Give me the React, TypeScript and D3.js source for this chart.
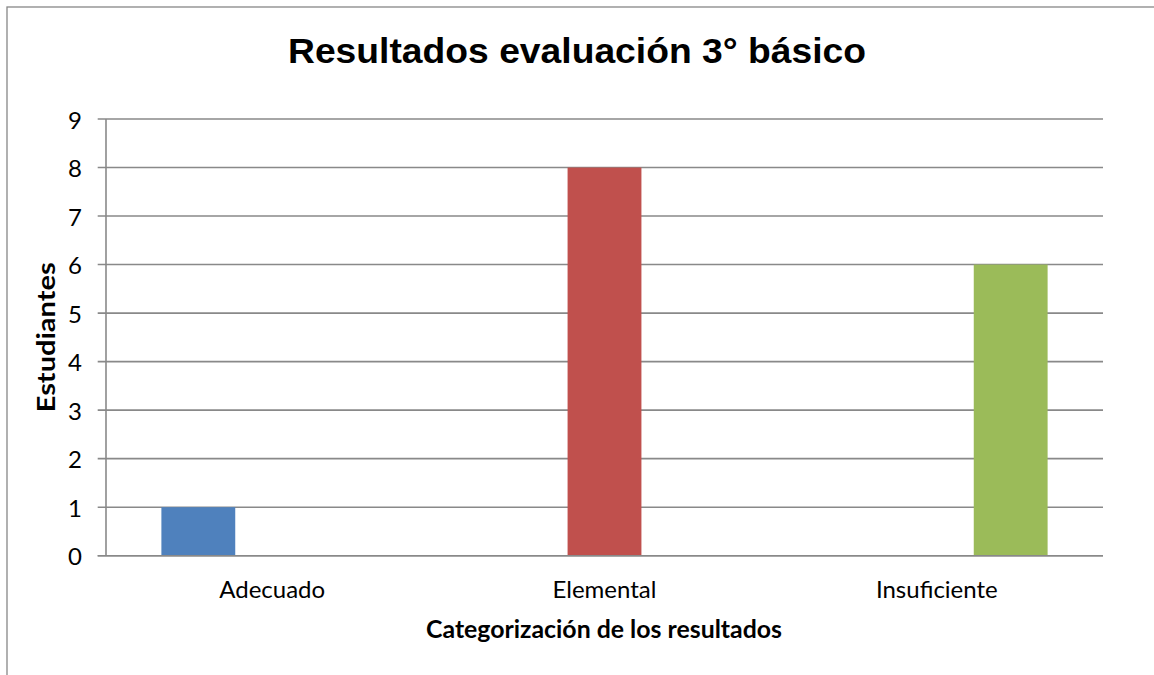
import React from "react";
import * as d3 from "d3";

const title = "Resultados evaluación 3° básico";
const yAxisTitle = "Estudiantes";
const xAxisTitle = "Categorización de los resultados";
const categories = ["Adecuado", "Elemental", "Insuficiente"];
const seriesNames = ["Adecuado", "Elemental", "Insuficiente"];
const seriesColors = ["#4f81bd", "#c0504d", "#9bbb59"];
// values of each series for each category
const seriesValues = [
  [1, 0, 0],
  [0, 8, 0],
  [0, 0, 6],
];
const yTicks = [0, 1, 2, 3, 4, 5, 6, 7, 8, 9];

const W = 1154;
const H = 675;
const plot = { left: 106, right: 1103, top: 119, bottom: 555.7 };

export default function App() {
  const x0 = d3
    .scaleBand<string>()
    .domain(categories)
    .range([plot.left, plot.right])
    .paddingInner(0)
    .paddingOuter(0);
  const x1 = d3
    .scaleBand<string>()
    .domain(seriesNames)
    .range([0, x0.bandwidth()])
    .paddingInner(0)
    .paddingOuter(0.75);
  const y = d3.scaleLinear().domain([0, 9]).range([plot.bottom, plot.top]);

  const gridColor = "#898989";
  const tickFont = "Lato, 'Open Sans', sans-serif";

  return (
    <svg
      width={W}
      height={H}
      style={{ position: "absolute", left: 0, top: 0, background: "#fff" }}
    >
      <rect x={0} y={0} width={W} height={H} fill="#fff" />
      {/* chart frame */}
      <rect
        x={7}
        y={7}
        width={W + 20}
        height={H + 20}
        fill="none"
        stroke="#878787"
        strokeWidth={1.3}
      />
      {/* title */}
      <text
        x={W / 2}
        y={62.7}
        textAnchor="middle"
        fontFamily="'Liberation Sans', Arial, sans-serif"
        fontWeight="bold"
        fontSize={35.5}
        textLength={578}
        lengthAdjust="spacingAndGlyphs"
        fill="#000"
      >
        {title}
      </text>
      {/* gridlines and y ticks */}
      {yTicks.map((t) => (
        <g key={t}>
          <line
            x1={plot.left - 8.3}
            x2={plot.right}
            y1={y(t)}
            y2={y(t)}
            stroke={gridColor}
            strokeWidth={1.6}
          />
          <text
            x={82}
            y={y(t)}
            textAnchor="end"
            dominantBaseline="central"
            fontFamily={tickFont}
            fontSize={24}
            fill="#000"
          >
            {t}
          </text>
        </g>
      ))}
      {/* y axis line */}
      <line
        x1={plot.left}
        x2={plot.left}
        y1={plot.top}
        y2={plot.bottom}
        stroke={gridColor}
        strokeWidth={1.6}
      />
      {/* bars */}
      {seriesNames.map((s, si) =>
        categories.map((c, ci) => {
          const v = seriesValues[si][ci];
          if (!v) return null;
          const bx = (x0(c) as number) + (x1(s) as number);
          return (
            <rect
              key={s + c}
              x={bx}
              y={y(v)}
              width={x1.bandwidth()}
              height={y(0) - y(v)}
              fill={seriesColors[si]}
            />
          );
        })
      )}
      {/* x axis line on top */}
      <line
        x1={plot.left - 8.3}
        x2={plot.right}
        y1={y(0)}
        y2={y(0)}
        stroke={gridColor}
        strokeWidth={1.6}
      />
      {/* category labels */}
      {categories.map((c) => (
        <text
          key={c}
          x={(x0(c) as number) + x0.bandwidth() / 2}
          y={597.5}
          textAnchor="middle"
          fontFamily={tickFont}
          fontSize={24}
          fill="#000"
        >
          {c}
        </text>
      ))}
      {/* axis titles */}
      <text
        x={604}
        y={638.3}
        textAnchor="middle"
        fontFamily={tickFont}
        fontWeight="bold"
        fontSize={25}
        textLength={356}
        lengthAdjust="spacingAndGlyphs"
        fill="#000"
      >
        {xAxisTitle}
      </text>
      <text
        transform={`translate(45, ${(plot.top + plot.bottom) / 2}) rotate(-90)`}
        textAnchor="middle"
        dominantBaseline="central"
        fontFamily={tickFont}
        fontWeight="bold"
        fontSize={25}
        textLength={150}
        lengthAdjust="spacingAndGlyphs"
        fill="#000"
      >
        {yAxisTitle}
      </text>
    </svg>
  );
}
